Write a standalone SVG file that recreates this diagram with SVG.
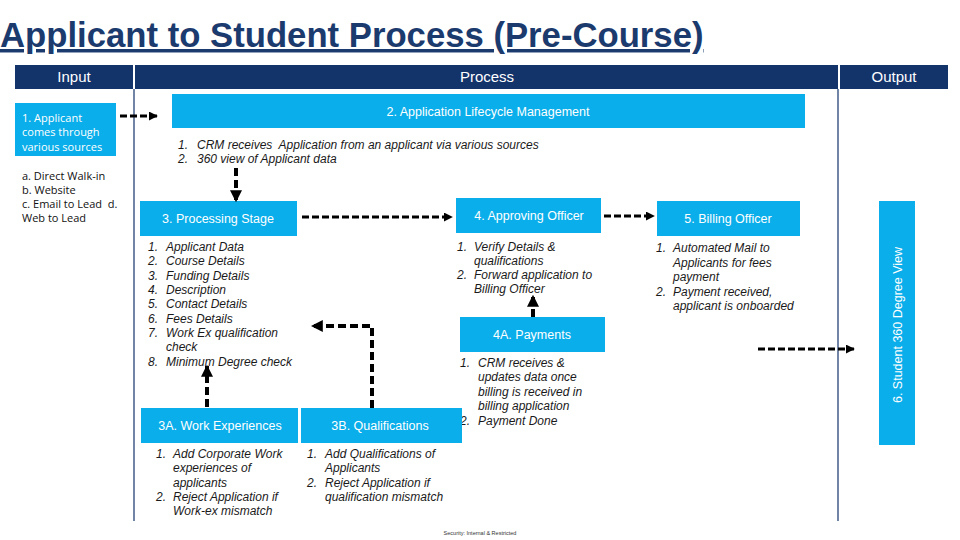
<svg xmlns="http://www.w3.org/2000/svg" width="960" height="540" viewBox="0 0 960 540">
<defs>
<style>
.hdr{fill:#13336b}
.hdrt{fill:#fff;font-family:"Liberation Sans",Arial,sans-serif;font-size:15px;text-anchor:middle}
.box{fill:#0aaeea}
.bt{fill:#fff;font-family:"Liberation Sans",Arial,sans-serif;font-size:12.5px;text-anchor:middle}
.it{fill:#1a1a1a;font-family:"Liberation Sans",Arial,sans-serif;font-size:12px;font-style:italic}
.seg{font-family:"Open Sans","Noto Sans",sans-serif;font-size:11px}
.div{stroke:#13336b;stroke-width:1.2}
.con{fill:none;stroke:#000;stroke-width:3;stroke-dasharray:7 3}
.conv{fill:none;stroke:#000;stroke-width:4;stroke-dasharray:8 4}
</style>
<marker id="ah" viewBox="0 0 10 10" refX="9" refY="5" markerWidth="3" markerHeight="3" orient="auto" markerUnits="strokeWidth">
<path d="M0,0 L10,5 L0,10 Z" fill="#000"/>
</marker>
</defs>
<rect width="960" height="540" fill="#fff"/>
<text x="0" y="47" font-family="Liberation Sans,Arial,sans-serif" font-size="34.7" font-weight="bold" fill="#1b3a6e" text-decoration="underline">Applicant to Student Process (Pre-Course)</text>

<g id="headers">
<rect class="hdr" x="15" y="65" width="118" height="24"/>
<text class="hdrt" x="74" y="82">Input</text>
<rect class="hdr" x="135" y="65" width="703" height="24"/>
<text class="hdrt" x="487" y="82">Process</text>
<rect class="hdr" x="840" y="65" width="108" height="24"/>
<text class="hdrt" x="894" y="82">Output</text>
</g>
<line class="div" x1="134" y1="89" x2="134" y2="521"/>
<line class="div" x1="838" y1="89" x2="838" y2="521"/>

<g id="n1">
<rect class="box" x="15" y="103" width="101" height="53"/>
<text class="seg" fill="#fff" x="22" y="122">1. Applicant</text>
<text class="seg" fill="#fff" x="22" y="136">comes through</text>
<text class="seg" fill="#fff" x="22" y="151">various sources</text>
</g>
<g id="n1list" class="seg" fill="#111">
<text x="22" y="180">a. Direct Walk-in</text>
<text x="22" y="194">b. Website</text>
<text x="22" y="208" xml:space="preserve">c. Email to Lead  d.</text>
<text x="22" y="222">Web to Lead</text>
</g>

<g id="n2">
<rect class="box" x="172" y="94" width="633" height="34"/>
<text class="bt" x="488" y="116">2. Application Lifecycle Management</text>
<text class="it" x="178" y="149">1.</text><text class="it" x="197" y="149" xml:space="preserve">CRM receives  Application from an applicant via various sources</text>
<text class="it" x="178" y="163">2.</text><text class="it" x="197" y="163">360 view of Applicant data</text>
</g>

<g id="n3">
<rect class="box" x="140" y="201" width="157" height="35"/>
<text class="bt" x="218" y="223">3. Processing Stage</text>
<text class="it" x="148" y="251">1.</text><text class="it" x="166" y="251">Applicant Data</text>
<text class="it" x="148" y="265">2.</text><text class="it" x="166" y="265">Course Details</text>
<text class="it" x="148" y="280">3.</text><text class="it" x="166" y="280">Funding Details</text>
<text class="it" x="148" y="294">4.</text><text class="it" x="166" y="294">Description</text>
<text class="it" x="148" y="308">5.</text><text class="it" x="166" y="308">Contact Details</text>
<text class="it" x="148" y="323">6.</text><text class="it" x="166" y="323">Fees Details</text>
<text class="it" x="148" y="337">7.</text><text class="it" x="166" y="337">Work Ex qualification</text>
<text class="it" x="166" y="351">check</text>
<text class="it" x="148" y="366">8.</text><text class="it" x="166" y="366">Minimum Degree check</text>
</g>

<g id="n4">
<rect class="box" x="456" y="198" width="145" height="35"/>
<text class="bt" x="529" y="220">4. Approving Officer</text>
<text class="it" x="457" y="251">1.</text><text class="it" x="474" y="251">Verify Details &amp;</text>
<text class="it" x="474" y="265">qualifications</text>
<text class="it" x="457" y="279">2.</text><text class="it" x="474" y="279">Forward application to</text>
<text class="it" x="474" y="293">Billing Officer</text>
</g>

<g id="n5">
<rect class="box" x="657" y="201" width="143" height="35"/>
<text class="bt" x="728" y="223">5. Billing Officer</text>
<text class="it" x="656" y="252">1.</text><text class="it" x="673" y="252">Automated Mail to</text>
<text class="it" x="673" y="267">Applicants for fees</text>
<text class="it" x="673" y="281">payment</text>
<text class="it" x="656" y="296">2.</text><text class="it" x="673" y="296">Payment received,</text>
<text class="it" x="673" y="310">applicant is onboarded</text>
</g>

<g id="n4a">
<rect class="box" x="460" y="317" width="145" height="35"/>
<text class="bt" x="532" y="339">4A. Payments</text>
<text class="it" x="460" y="367">1.</text><text class="it" x="478" y="367">CRM receives &amp;</text>
<text class="it" x="478" y="381">updates data once</text>
<text class="it" x="478" y="396">billing is received in</text>
<text class="it" x="478" y="410">billing application</text>
<text class="it" x="460" y="425">2.</text><text class="it" x="478" y="425">Payment Done</text>
</g>

<g id="n3a">
<rect class="box" x="141" y="408" width="157" height="35"/>
<text class="bt" x="220" y="430">3A. Work Experiences</text>
<text class="it" x="156" y="458">1.</text><text class="it" x="173" y="458">Add Corporate Work</text>
<text class="it" x="173" y="472">experiences of</text>
<text class="it" x="173" y="487">applicants</text>
<text class="it" x="156" y="501">2.</text><text class="it" x="173" y="501">Reject Application if</text>
<text class="it" x="173" y="515">Work-ex mismatch</text>
</g>

<g id="n3b">
<rect class="box" x="301" y="408" width="161" height="35"/>
<text class="bt" x="380" y="430">3B. Qualifications</text>
<text class="it" x="307" y="458">1.</text><text class="it" x="325" y="458">Add Qualifications of</text>
<text class="it" x="325" y="472">Applicants</text>
<text class="it" x="307" y="487">2.</text><text class="it" x="325" y="487">Reject Application if</text>
<text class="it" x="325" y="501">qualification mismatch</text>
</g>

<g id="n6">
<rect class="box" x="879" y="201" width="36" height="244"/>
<text class="bt" transform="translate(902,325) rotate(-90)" x="0" y="0" font-size="14.5">6. Student 360 Degree View</text>
</g>

<g id="connectors">
<path class="con" d="M120,116 H157" marker-end="url(#ah)"/>
<path class="conv" d="M236,168 V201" marker-end="url(#ah)"/>
<path class="con" d="M302,217 H452" marker-end="url(#ah)"/>
<path class="con" d="M604,216 H654" marker-end="url(#ah)"/>
<path class="conv" d="M533,317 V296" marker-end="url(#ah)"/>
<path class="conv" d="M207,407 V366" marker-end="url(#ah)"/>
<path class="conv" d="M372,408 V326 H312" marker-end="url(#ah)"/>
<path class="con" d="M758,349 H854" marker-end="url(#ah)"/>
</g>

<text x="480" y="535" font-family="Liberation Sans,Arial,sans-serif" font-size="5.5" text-anchor="middle" fill="#333">Security: Internal &amp; Restricted</text>
</svg>
